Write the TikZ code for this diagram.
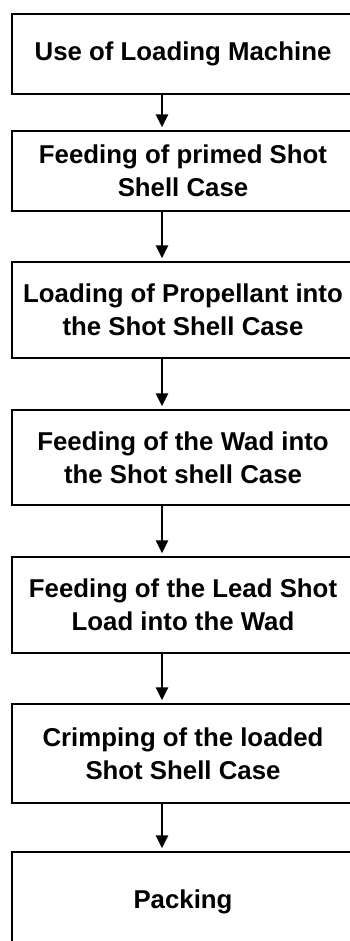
\documentclass[tikz,border=0pt]{standalone}
\usepackage{fontspec}
\setmainfont{Liberation Sans}
\usetikzlibrary{arrows.meta}
\begin{document}
\begin{tikzpicture}[x=1pt,y=-1pt,
  stepbox/.style={draw=black, line width=2.3pt, minimum width=342pt, inner sep=0pt,
    align=center, font=\bfseries\fontsize{25.8}{33}\selectfont},
  flowarrow/.style={line width=2.3pt, -{Triangle[width=12pt,length=13pt]}}]
\useasboundingbox (0,0) rectangle (350,941);
\clip (0,0) rectangle (350,941);
\fill[white] (0,0) rectangle (350,941);
\node[stepbox, minimum height=80pt] (b1) at (183,54) {Use of Loading Machine};
\node[stepbox, minimum height=80pt] (b2) at (183,171) {Feeding of primed Shot\\Shell Case};
\node[stepbox, minimum height=96pt] (b3) at (183,310) {Loading of Propellant into\\the Shot Shell Case};
\node[stepbox, minimum height=95pt] (b4) at (183,457.5) {Feeding of the Wad into\\the Shot shell Case};
\node[stepbox, minimum height=96pt] (b5) at (183,605) {Feeding of the Lead Shot\\Load into the Wad};
\node[stepbox, minimum height=99pt] (b6) at (183,753.5) {Crimping of the loaded\\Shot Shell Case};
\node[stepbox, minimum height=100pt] (b7) at (183,902) {Packing};
\foreach \a/\b in {b1/b2,b2/b3,b3/b4,b4/b5,b5/b6,b6/b7}{
  \draw[flowarrow] ([xshift=-21pt]\a.south) -- ([xshift=-21pt,yshift=2.5pt]\b.north);
}
\end{tikzpicture}
\end{document}
